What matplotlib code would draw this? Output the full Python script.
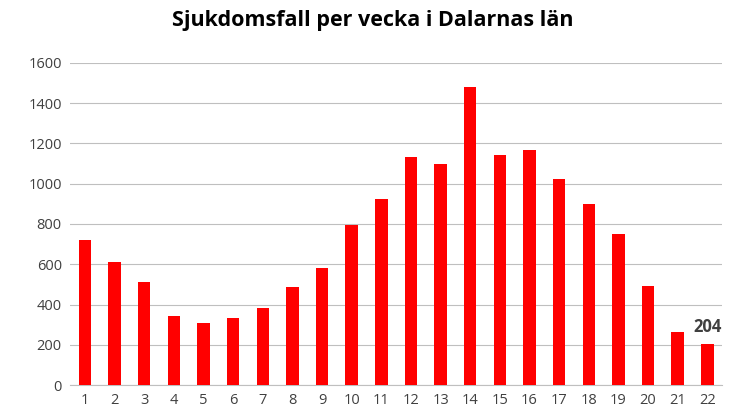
import matplotlib
matplotlib.use("Agg")
import matplotlib.pyplot as plt

weeks = list(range(1, 23))
cases = [720, 610, 510, 345, 310, 335, 385, 485, 580, 795, 925, 1130, 1100, 1480,
         1140, 1165, 1025, 900, 750, 490, 265, 204]
yticks = [0, 200, 400, 600, 800, 1000, 1200, 1400, 1600]
title = "Sjukdomsfall per vecka i Dalarnas län"

plt.rcParams['font.family'] = ['Open Sans', 'DejaVu Sans']
fig = plt.figure(figsize=(7.46, 4.19), dpi=100)
ax = fig.add_axes([0.094, 0.081, 0.874, 0.769])
ax.bar(weeks, cases, width=0.42, color='#ff0000', zorder=3)
ax.set_xlim(0.5, 22.5)
ax.set_ylim(0, 1600)
ax.set_yticks(yticks)
ax.set_xticks(weeks)
ax.grid(axis='y', color='#bfbfbf', linewidth=0.8, zorder=0)
for s in ['top', 'right', 'left']:
    ax.spines[s].set_visible(False)
ax.spines['bottom'].set_color('#bfbfbf')
ax.tick_params(length=0, labelsize=10.5, colors='#404040', pad=6)
ax.annotate(str(cases[-1]), (weeks[-1], cases[-1]), xytext=(0, 6), textcoords='offset points',
            ha='center', va='bottom', fontsize=12, fontweight='bold', color='#404040')
fig.suptitle(title, x=0.5, y=0.975, fontsize=15.5, fontweight='bold', color='black')
fig.savefig('out.png', dpi=100)
